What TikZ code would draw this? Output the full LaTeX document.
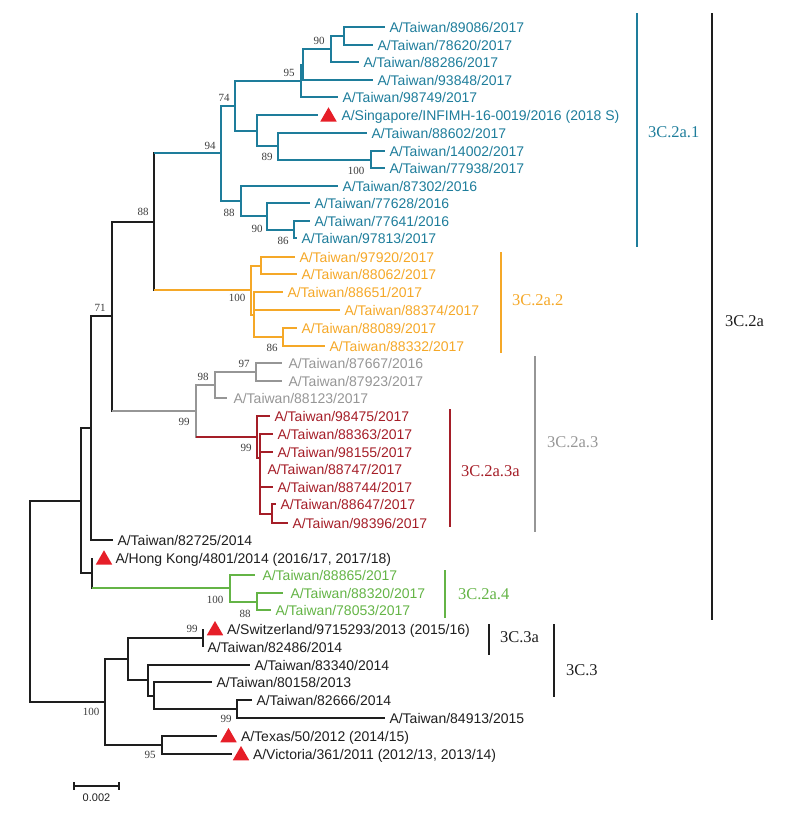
\documentclass[tikz,border=0pt]{standalone}
\usepackage{fontspec}
\setmainfont{Liberation Sans}
\newfontfamily\bsfont{Liberation Serif}
\usetikzlibrary{shapes.geometric}
\definecolor{cblue}{RGB}{30,125,155}
\definecolor{corange}{RGB}{245,168,40}
\definecolor{cgray}{RGB}{150,150,150}
\definecolor{cred}{RGB}{165,30,40}
\definecolor{cgreen}{RGB}{100,180,70}
\definecolor{tred}{RGB}{230,30,40}
\definecolor{cblack}{RGB}{30,30,30}
\definecolor{bsgray}{RGB}{60,60,60}
\tikzset{
  lab/.style={anchor=base west, inner sep=0pt, xshift=3.5pt, yshift=-5pt, font=\fontsize{14}{16}\selectfont},
  bs/.style={inner sep=0pt, text=bsgray, font=\bsfont\fontsize{11}{12}\selectfont},
  clade/.style={anchor=west, inner sep=0pt, font=\bsfont\fontsize{16.5}{18}\selectfont},
  tri/.style={regular polygon, regular polygon sides=3, fill=tred, draw=none, inner sep=0pt, minimum size=19pt},
  vseg/.style={line cap=rect}
}
\begin{document}
\begin{tikzpicture}[x=1pt,y=-1pt,line width=2pt]
\useasboundingbox (0,0) rectangle (788,814);
% ---------- coordinates: blue clade
\coordinate (L1) at (385,27);
\coordinate (L2) at (373,45);
\coordinate (L3) at (359,62);
\coordinate (L4) at (373,80);
\coordinate (L5) at (338,97);
\coordinate (L6) at (318,115);
\coordinate (L7) at (367,133);
\coordinate (L8) at (385,151);
\coordinate (L9) at (385,168);
\coordinate (L10) at (338,186);
\coordinate (L11) at (310,203);
\coordinate (L12) at (310,221);
\coordinate (L13) at (297,238);
\coordinate (b90) at (344,36);
\coordinate (bA) at (331,49);
\coordinate (bB) at (303,64.5);
\coordinate (b95) at (301,80.75);
\coordinate (b100) at (371,159.5);
\coordinate (b89) at (278,146.25);
\coordinate (bS) at (257,130.6);
\coordinate (b74) at (235,105.7);
\coordinate (b86) at (294,229.5);
\coordinate (b90b) at (267,216.25);
\coordinate (b88) at (241,201.1);
\coordinate (b94) at (221,153.4);
% orange
\coordinate (O1) at (295,257);
\coordinate (O2) at (297,274);
\coordinate (O3) at (283,292);
\coordinate (O4) at (340,310);
\coordinate (O5) at (297,328);
\coordinate (O6) at (325,346);
\coordinate (oA) at (261,265.5);
\coordinate (oC) at (283,337);
\coordinate (oB) at (254,314.5);
\coordinate (o100) at (251,290);
\coordinate (n88) at (154,221.7);
% gray
\coordinate (G1) at (282,363);
\coordinate (G2) at (282,381);
\coordinate (G3) at (227,398);
\coordinate (g97) at (256,372);
\coordinate (g98) at (215,385);
% red
\coordinate (R1) at (270,416);
\coordinate (R2) at (273,434);
\coordinate (R3) at (273,452);
\coordinate (R4) at (260,469);
\coordinate (R5) at (273,487);
\coordinate (R6) at (276,504);
\coordinate (R7) at (288,523);
\coordinate (rC) at (272,513.5);
\coordinate (rB) at (260,458);
\coordinate (r99) at (257,437);
\coordinate (g99) at (196,411);
\coordinate (n71) at (112,316.35);
\coordinate (K1) at (113,540);
\coordinate (n91) at (91,428.2);
% green
\coordinate (Gr1) at (255,575);
\coordinate (Gr2) at (283,593);
\coordinate (Gr3) at (271,610);
\coordinate (gr88) at (257,601.5);
\coordinate (gr100) at (230,588.25);
\coordinate (HK) at (92,558);
\coordinate (nHK) at (92,573.1);
\coordinate (n81) at (81,500.7);
% 3C.3
\coordinate (S1) at (203,629);
\coordinate (S2) at (203,647);
\coordinate (c99) at (203,638);
\coordinate (S3) at (250,665);
\coordinate (S4) at (212,682);
\coordinate (S5) at (252,700);
\coordinate (S6) at (385,718);
\coordinate (c99b) at (237,709);
\coordinate (cE) at (154,695.5);
\coordinate (cD) at (148,680.25);
\coordinate (cC) at (128,659.1);
\coordinate (S7) at (217,736);
\coordinate (S8) at (232,754);
\coordinate (c95) at (162,745);
\coordinate (c100) at (105,702);
\coordinate (root) at (30,601.3);
% ---------- edges
\foreach \p/\c in {b90/L1,b90/L2,bA/b90,bA/L3,bB/bA,bB/L4,b95/bB,b95/L5,b74/b95,b74/bS,bS/L6,bS/b89,b89/L7,b89/b100,b100/L8,b100/L9,b94/b74,b94/b88,b88/L10,b88/b90b,b90b/L11,b90b/b86,b86/L12,b86/L13}
  \draw[cblue] (\p) |- (\c);
\foreach \p/\c in {oA/O1,oA/O2,o100/oA,o100/oB,oB/O3,oB/O4,oB/oC,oC/O5,oC/O6}
  \draw[corange] (\p) |- (\c);
\foreach \p/\c in {g97/G1,g97/G2,g98/g97,g98/G3,g99/g98}
  \draw[cgray] (\p) |- (\c);
\foreach \p/\c in {r99/R1,r99/rB,rB/R2,rB/R3,rB/R4,rB/R5,rB/rC,rC/R6,rC/R7}
  \draw[cred] (\p) |- (\c);
\foreach \p/\c in {gr100/Gr1,gr100/gr88,gr88/Gr2,gr88/Gr3}
  \draw[cgreen] (\p) |- (\c);
\foreach \p/\c in {root/n81,root/c100,n81/n91,n81/nHK,n91/n71,n91/K1,n71/n88,nHK/HK,c100/cC,c100/c95,cC/c99,cC/cD,c99/S1,c99/S2,cD/S3,cD/cE,cE/S4,cE/c99b,c99b/S5,c99b/S6,c95/S7,c95/S8}
  \draw[cblack] (\p) |- (\c);
% mixed colour edges
\draw[cblack,vseg] (n88) -- (n88 |- b94);
\draw[cblue] (n88 |- b94) -- (b94);
\draw[cblack,vseg] (n88) -- (n88 |- o100);
\draw[corange] (n88 |- o100) -- (o100);
\draw[cblack,vseg] (n71) -- (n71 |- g99);
\draw[cgray] (n71 |- g99) -- (g99);
\draw[cgray,vseg] (g99) -- (g99 |- r99);
\draw[cred] (g99 |- r99) -- (r99);
\draw[cblack,vseg] (nHK) -- (nHK |- gr100);
\draw[cgreen] (nHK |- gr100) -- (gr100);
% ---------- reference-strain triangles
\node[tri] (m1) at (328.5,116.8) {};
\node[tri] (m2) at (104,559.8) {};
\node[tri] (m3) at (215,630.5) {};
\node[tri] (m4) at (228.5,737.5) {};
\node[tri] (m5) at (241,755.5) {};
% ---------- leaf labels
\begin{scope}[every node/.append style={text=cblue}]
\node[lab] (t1) at (L1) {A/Taiwan/89086/2017};
\node[lab] (t2) at (L2) {A/Taiwan/78620/2017};
\node[lab] (t3) at (L3) {A/Taiwan/88286/2017};
\node[lab] (t4) at (L4) {A/Taiwan/93848/2017};
\node[lab] (t5) at (L5) {A/Taiwan/98749/2017};
\node[lab] (t6) at (337,115) {A/Singapore/INFIMH-16-0019/2016 (2018 S)};
\node[lab] (t7) at (L7) {A/Taiwan/88602/2017};
\node[lab] (t8) at (L8) {A/Taiwan/14002/2017};
\node[lab] (t9) at (L9) {A/Taiwan/77938/2017};
\node[lab] (t10) at (L10) {A/Taiwan/87302/2016};
\node[lab] (t11) at (L11) {A/Taiwan/77628/2016};
\node[lab] (t12) at (L12) {A/Taiwan/77641/2016};
\node[lab] (t13) at (L13) {A/Taiwan/97813/2017};
\end{scope}
\begin{scope}[every node/.append style={text=corange}]
\node[lab] (t14) at (O1) {A/Taiwan/97920/2017};
\node[lab] (t15) at (O2) {A/Taiwan/88062/2017};
\node[lab] (t16) at (O3) {A/Taiwan/88651/2017};
\node[lab] (t17) at (O4) {A/Taiwan/88374/2017};
\node[lab] (t18) at (O5) {A/Taiwan/88089/2017};
\node[lab] (t19) at (O6) {A/Taiwan/88332/2017};
\end{scope}
\begin{scope}[every node/.append style={text=cgray}]
\node[lab] (t20) at (284,363) {A/Taiwan/87667/2016};
\node[lab] (t21) at (284,381) {A/Taiwan/87923/2017};
\node[lab] (t22) at (229,398) {A/Taiwan/88123/2017};
\end{scope}
\begin{scope}[every node/.append style={text=cred}]
\node[lab] (t23) at (R1) {A/Taiwan/98475/2017};
\node[lab] (t24) at (R2) {A/Taiwan/88363/2017};
\node[lab] (t25) at (R3) {A/Taiwan/98155/2017};
\node[lab] (t26) at (263,469) {A/Taiwan/88747/2017};
\node[lab] (t27) at (R5) {A/Taiwan/88744/2017};
\node[lab] (t28) at (R6) {A/Taiwan/88647/2017};
\node[lab] (t29) at (R7) {A/Taiwan/98396/2017};
\end{scope}
\begin{scope}[every node/.append style={text=cgreen}]
\node[lab] (t30) at (258,575) {A/Taiwan/88865/2017};
\node[lab] (t31) at (286,593) {A/Taiwan/88320/2017};
\node[lab] (t32) at (Gr3) {A/Taiwan/78053/2017};
\end{scope}
\begin{scope}[every node/.append style={text=cblack}]
\node[lab] (t33) at (K1) {A/Taiwan/82725/2014};
\node[lab] (t34) at (111,558) {A/Hong Kong/4801/2014 (2016/17, 2017/18)};
\node[lab] (t35) at (222.5,629) {A/Switzerland/9715293/2013 (2015/16)};
\node[lab] (t36) at (S2) {A/Taiwan/82486/2014};
\node[lab] (t37) at (S3) {A/Taiwan/83340/2014};
\node[lab] (t38) at (S4) {A/Taiwan/80158/2013};
\node[lab] (t39) at (S5) {A/Taiwan/82666/2014};
\node[lab] (t40) at (S6) {A/Taiwan/84913/2015};
\node[lab] (t41) at (236.5,736) {A/Texas/50/2012 (2014/15)};
\node[lab] (t42) at (248.5,754) {A/Victoria/361/2011 (2012/13, 2013/14)};
\end{scope}
% ---------- bootstrap values
\node[bs] (v1) at (319,41) {90};
\node[bs] (v2) at (289,73) {95};
\node[bs] (v3) at (224,98) {74};
\node[bs] (v4) at (210,146) {94};
\node[bs] (v5) at (267,157) {89};
\node[bs] (v6) at (356,171) {100};
\node[bs] (v7) at (229,213) {88};
\node[bs] (v8) at (257,229) {90};
\node[bs] (v9) at (283,241) {86};
\node[bs] (v10) at (143,212) {88};
\node[bs] (v11) at (237,298) {100};
\node[bs] (v12) at (272,348) {86};
\node[bs] (v13) at (100,308) {71};
\node[bs] (v14) at (244,364) {97};
\node[bs] (v15) at (203,377) {98};
\node[bs] (v16) at (184,422) {99};
\node[bs] (v17) at (246,448) {99};
\node[bs] (v18) at (215,600) {100};
\node[bs] (v19) at (245,614) {88};
\node[bs] (v20) at (192,629) {99};
\node[bs] (v21) at (91,712) {100};
\node[bs] (v22) at (226,719) {99};
\node[bs] (v23) at (150,755) {95};
% ---------- clade brackets
\draw[cblue] (637,13) -- (637,247);
\node[clade,text=cblue] (k1) at (647,132) {3C.2a.1};
\draw[corange] (501,252) -- (501,353);
\node[clade,text=corange] (k2) at (511,300) {3C.2a.2};
\draw[cgray] (535,356) -- (535,532);
\node[clade,text=cgray] (k3) at (546,442) {3C.2a.3};
\draw[cred] (450,409) -- (450,527);
\node[clade,text=cred] (k4) at (460,471) {3C.2a.3a};
\draw[cgreen] (445,570) -- (445,618);
\node[clade,text=cgreen] (k5) at (457,594) {3C.2a.4};
\draw[cblack,line width=2.5pt] (712,13) -- (712,620);
\node[clade,text=cblack] (k6) at (724,321) {3C.2a};
\draw[cblack] (489,624) -- (489,655);
\node[clade,text=cblack] (k7) at (499,637) {3C.3a};
\draw[cblack] (554,624) -- (554,697);
\node[clade,text=cblack] (k8) at (565,670) {3C.3};
% ---------- scale bar
\coordinate (sb1) at (74,786);
\coordinate (sb2) at (119,786);
\draw[cblack,line width=1.6pt] (sb1) -- (sb2);
\draw[cblack,line width=1.6pt] ([yshift=4pt]sb1) -- ([yshift=-4pt]sb1);
\draw[cblack,line width=1.6pt] ([yshift=4pt]sb2) -- ([yshift=-4pt]sb2);
\node[inner sep=0pt,text=cblack,font=\fontsize{11}{12}\selectfont] (sbl) at (96.5,798) {0.002};
\end{tikzpicture}
\end{document}
